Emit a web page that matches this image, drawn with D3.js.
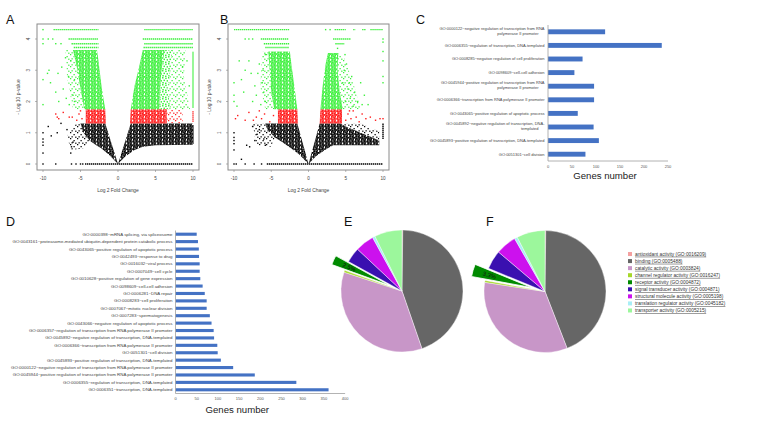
<!DOCTYPE html>
<html><head><meta charset="utf-8">
<script src="https://cdn.jsdelivr.net/npm/d3@7"></script>
<style>body{margin:0;background:#fff}svg{display:block}text{font-family:"Liberation Sans",Arial,sans-serif}</style>
</head><body><svg id="c" width="772" height="429"></svg>
<script>
// ---------------- DATA ----------------
const volcanoTicksX = [-10, -5, 0, 5, 10];
const volcanoTicksY = [0, 1, 2, 3, 4];
const volcanoXTitle = "Log 2 Fold Change";
const volcanoYTitle = "- Log 10 p-value";

// regions: [colour, density, polygon in (log2FC, -log10 p)]
const aRegions = [
  ["k","dense",[[0,0],[-1.2,0.3],[-2.2,0.5],[-3.0,0.62],[-3.8,0.75],[-4.6,1.0],[-5.0,1.3],[-1.7,1.3]]],
  ["k","sparse",[[-3.8,0.75],[-4.6,0.5],[-6.3,0.45],[-6.8,0.9],[-5.6,1.3],[-5.0,1.3],[-4.6,1.0]]],
  ["k","dense",[[0,0],[1.0,0.25],[2.2,0.45],[3.3,0.55],[5,0.6],[10,0.62],[10,1.3],[1.7,1.3]]],
  ["r","dense",[[-1.6,1.3],[-4.3,1.3],[-4.3,1.75],[-1.7,1.75]]],
  ["r","dense",[[1.6,1.3],[6.5,1.3],[6.5,1.75],[1.7,1.75]]],
  ["r","sparse",[[6.5,1.3],[8.6,1.3],[8.6,1.75],[6.5,1.75]]],
  ["g","dense",[[-1.7,1.75],[-2.2,2.5],[-2.6,3.3],[-2.8,3.65],[-6.0,3.65],[-5.4,3.0],[-5.0,2.4],[-4.5,1.75]]],
  ["g","sparse",[[-4.5,1.75],[-5.0,2.4],[-5.4,3.0],[-6.0,3.65],[-7.0,3.65],[-6.8,2.8],[-6.0,1.75]]],
  ["g","dense",[[1.7,1.75],[2.2,2.5],[2.9,3.2],[3.3,3.65],[6.2,3.65],[5.8,3.0],[5.6,2.4],[5.5,1.75]]],
  ["g","medium",[[5.5,1.75],[5.6,2.4],[5.8,3.0],[6.2,3.65],[7.2,3.65],[7.0,3.0],[6.6,2.4],[7.0,1.75]]],
  ["g","sparse",[[7.0,1.75],[6.6,2.4],[7.0,3.0],[7.2,3.65],[9.0,3.65],[8.8,2.8],[9.6,1.75]]]
];
// rows / columns of points: [x1, y1, x2, y2, colour]
const aRows = [
  [-8.6,4.3,-2.6,4.3,"g"],[3.5,4.3,10,4.3,"g"],
  [-6.6,4.0,-2.6,4.0,"g"],[3.3,4.0,10,4.0,"g"],
  [-6.2,3.85,-2.6,3.85,"g"],[3.5,3.85,10,3.85,"g"],
  [-5.9,3.73,-2.6,3.73,"g"],[3.4,3.73,10,3.73,"g"],
  [10,1.8,10,3.6,"g"],[10,1.35,10,1.7,"r"],[10,0.65,10,1.25,"k"],
  [-4.4,0,10,0,"k"]
];
// single points: [x, y, colour]
const aPoints = [
  [-10,0,"k"],[-8.3,0,"k"],[-6.2,0,"k"],[-5.6,0,"k"],[-5.0,0,"k"],[-4.7,0,"k"],
  [-10,1.0,"k"],[-10,0.8,"k"],[-10,0.7,"k"],[-10,0.6,"k"],[-10,0.35,"k"],[-9.3,1.2,"k"],[-8.1,1.0,"k"],
  [-8.9,0.9,"k"],[-6.0,0.7,"k"],[-6.2,0.55,"k"],[-6.3,0.35,"k"],[-7.6,1.3,"k"],[-6.8,1.1,"k"],
  [-8.3,1.6,"r"],[-8.1,1.5,"r"],[-7.9,1.45,"r"],[-6.5,1.5,"r"],[-6.1,1.5,"r"],[-5.5,1.4,"r"],
  [-5.2,1.6,"r"],[-4.8,1.45,"r"],[-5.0,1.7,"r"],[-7.3,1.65,"r"],
  [-10,1.9,"g"],[-10,2.7,"g"],[-9.4,2.9,"g"],[-9.0,2.6,"g"],[-9.2,3.0,"g"],[-8.0,2.9,"g"],
  [-7.5,3.1,"g"],[-7.3,2.4,"g"],[-6.9,2.1,"g"],[-7.9,2.0,"g"],[-8.3,2.3,"g"],[-6.6,2.8,"g"],
  [-6.3,3.3,"g"],[-6.0,2.2,"g"],[-6.5,1.9,"g"],[-5.8,2.0,"g"],[-7.0,3.4,"g"],[-5.8,2.7,"g"],
  [-10,4.3,"g"],[-10,4.0,"g"],[-9.3,4.0,"g"],[-8.7,4.0,"g"],[-10,3.85,"g"],[-8.3,3.85,"g"],[-7.6,3.85,"g"],
  [9.2,3.3,"g"],[9.5,2.5,"g"],[8.6,3.1,"g"]
];

const bRegions = [
  ["k","dense",[[0,0],[-1.2,0.3],[-2.3,0.5],[-3.5,0.7],[-4.5,0.85],[-5.5,1.1],[-5.8,1.3],[-1.5,1.3]]],
  ["k","sparse",[[-4.5,0.85],[-5.0,0.55],[-7.0,0.6],[-7.5,1.3],[-5.8,1.3],[-5.5,1.1]]],
  ["k","dense",[[0,0],[1,0.25],[2.2,0.45],[3.3,0.6],[9.5,0.6],[9.5,0.75],[7,1.0],[5,1.2],[4.3,1.3],[1.5,1.3]]],
  ["k","sparse",[[4.3,1.3],[5,1.2],[7,1.0],[9.5,0.75],[9.5,1.05],[7,1.3]]],
  ["r","dense",[[-1.4,1.3],[-4.1,1.3],[-4.1,1.75],[-1.5,1.75]]],
  ["r","dense",[[1.5,1.3],[4.5,1.3],[4.5,1.75],[1.6,1.75]]],
  ["g","dense",[[-1.5,1.75],[-1.9,2.5],[-2.3,3.2],[-2.5,3.6],[-5.4,3.6],[-5.2,3.0],[-5.0,2.3],[-4.6,1.75]]],
  ["g","sparse",[[-4.6,1.75],[-5.0,2.3],[-5.2,3.0],[-5.4,3.6],[-6.2,3.6],[-6.5,2.5],[-5.8,1.75]]],
  ["g","dense",[[1.6,1.75],[1.9,2.5],[2.3,3.2],[2.6,3.55],[4.0,3.55],[3.9,3.0],[4.2,2.3],[4.6,1.75]]],
  ["g","sparse",[[4.6,1.75],[4.2,2.3],[3.9,3.0],[4.0,3.55],[4.8,3.4],[6,2.6],[7,1.75]]]
];
const bRows = [
  [-10,4.3,-2.6,4.3,"g"],[3.5,4.3,5.0,4.3,"g"],[6.0,4.3,6.3,4.3,"g"],[7.2,4.3,7.7,4.3,"g"],[8.3,4.3,10,4.3,"g"],
  [-6.4,4.0,-2.7,4.0,"g"],[3.3,4.0,5.7,4.0,"g"],
  [-6.0,3.85,-2.6,3.85,"g"],[3.6,3.85,4.8,3.85,"g"],
  [-5.8,3.73,-2.6,3.73,"g"],
  [10,0.8,10,1.3,"k"],
  [-5.6,0,10,0,"k"]
];
const bPoints = [
  [-10,0,"k"],[-9.7,0,"k"],[-8.5,0,"k"],[-7.3,0,"k"],[-6.3,0,"k"],
  [-10,1.0,"k"],[-10,0.85,"k"],[-10,0.75,"k"],[-10,0.65,"k"],[-10,0.45,"k"],[-8.3,0.6,"k"],[-7.9,0.55,"k"],
  [-7.2,0.75,"k"],[-6.9,0.95,"k"],[-6.6,1.1,"k"],[-6.0,0.8,"k"],[-5.8,0.6,"k"],[-7.5,1.2,"k"],[-9.0,0.15,"k"],
  [-9.8,1.45,"r"],[-9.5,1.55,"r"],[-8.5,1.4,"r"],[-7.4,1.4,"r"],[-7.0,1.5,"r"],[-6.3,1.45,"r"],[-5.9,1.6,"r"],
  [-5.2,1.35,"r"],[-4.7,1.55,"r"],[-6.6,1.7,"r"],[-8.0,1.65,"r"],
  [5,1.4,"r"],[5.3,1.6,"r"],[5.7,1.45,"r"],[6.0,1.7,"r"],[6.4,1.5,"r"],[6.8,1.35,"r"],[7.2,1.6,"r"],
  [7.7,1.45,"r"],[8.3,1.5,"r"],[9.0,1.4,"r"],[9.6,1.45,"r"],[10,1.45,"r"],[5.5,1.7,"r"],
  [-10,2.0,"g"],[-10,2.2,"g"],[-9.6,1.85,"g"],[-10,2.6,"g"],[-9.0,2.7,"g"],[-8.5,3.0,"g"],[-8.0,3.3,"g"],
  [-7.7,2.9,"g"],[-7.2,2.5,"g"],[-7.0,2.2,"g"],[-6.8,2.9,"g"],[-6.6,3.2,"g"],[-6.2,2.6,"g"],[-6.0,2.3,"g"],
  [-5.8,3.5,"g"],[-7.5,2.0,"g"],[-8.7,2.3,"g"],[-9.3,3.3,"g"],[-6.4,1.9,"g"],[-5.8,2.0,"g"],[-6.1,3.0,"g"],
  [-8.5,4.0,"g"],[-8.0,4.0,"g"],[-7.5,4.0,"g"],
  [5,2.0,"g"],[5.3,2.4,"g"],[5.6,2.1,"g"],[5.8,2.8,"g"],[6.2,2.3,"g"],[6.6,2.0,"g"],[7.0,2.6,"g"],
  [7.5,2.2,"g"],[8.0,1.9,"g"],[4.8,3.0,"g"],[5.1,3.2,"g"],[4.6,2.6,"g"],[6.0,1.85,"g"],[7.2,1.9,"g"],
  [5.5,2.6,"g"],[4.9,3.5,"g"],[3.9,3.7,"g"],[2.3,4.3,"g"],[2.9,4.3,"g"],
  [10,3.3,"g"],[10,3.6,"g"],[10,3.9,"g"],[10,4.0,"g"],[10,2.8,"g"],[10,2.6,"g"]
];

// Panel C
const cCategories = [
  ["GO:0000122~negative regulation of transcription from RNA","polymerase II promoter"],
  ["GO:0006355~regulation of transcription, DNA-templated"],
  ["GO:0008285~negative regulation of cell proliferation"],
  ["GO:0098609~cell-cell adhesion"],
  ["GO:0045944~positive regulation of transcription from RNA","polymerase II promoter"],
  ["GO:0006366~transcription from RNA polymerase II promoter"],
  ["GO:0043065~positive regulation of apoptotic process"],
  ["GO:0045892~negative regulation of transcription, DNA-","templated"],
  ["GO:0045893~positive regulation of transcription, DNA-templated"],
  ["GO:0051301~cell division"]
];
const cValues = [119, 237, 72, 55, 96, 96, 62, 95, 106, 78];
const cTicks = [0, 50, 100, 150, 200, 250];

// Panel D
const dCategories = [
  "GO:0000398~mRNA splicing, via spliceosome",
  "GO:0043161~proteasome-mediated ubiquitin-dependent protein catabolic process",
  "GO:0043065~positive regulation of apoptotic process",
  "GO:0042493~response to drug",
  "GO:0016032~viral process",
  "GO:0007049~cell cycle",
  "GO:0010628~positive regulation of gene expression",
  "GO:0098609~cell-cell adhesion",
  "GO:0006281~DNA repair",
  "GO:0008283~cell proliferation",
  "GO:0007067~mitotic nuclear division",
  "GO:0007283~spermatogenesis",
  "GO:0043066~negative regulation of apoptotic process",
  "GO:0006357~regulation of transcription from RNA polymerase II promoter",
  "GO:0045892~negative regulation of transcription, DNA-templated",
  "GO:0006366~transcription from RNA polymerase II promoter",
  "GO:0051301~cell division",
  "GO:0045893~positive regulation of transcription, DNA-templated",
  "GO:0000122~negative regulation of transcription from RNA polymerase II promoter",
  "GO:0045944~positive regulation of transcription from RNA polymerase II promoter",
  "GO:0006355~regulation of transcription, DNA-templated",
  "GO:0006351~transcription, DNA-templated"
];
const dValues = [50, 53, 55, 55.5, 57, 57, 58.5, 64, 69, 73.5, 73.5, 81, 85, 90, 91, 98.6, 99.5, 107, 136, 187, 285, 361];
const dTicks = [0, 50, 100, 150, 200, 250, 300, 350, 400];
const axisTitle = "Genes number";

// Panels E, F
const pieCategories = [
  "antioxidant activity (GO:0016209)",
  "binding (GO:0005488)",
  "catalytic activity (GO:0003824)",
  "channel regulator activity (GO:0016247)",
  "receptor activity (GO:0004872)",
  "signal transducer activity (GO:0004871)",
  "structural molecule activity (GO:0005198)",
  "translation regulator activity (GO:0045182)",
  "transporter activity (GO:0005215)"
];
const pieColors = ["#f4a0a0","#666666","#c896c8","#a6d82a","#008a00","#3a10b0","#cc11ee","#a8eef6","#9cf79c"];
const pieEValues = [0.2, 44.5, 35.3, 0.5, 2.5, 4.0, 5.0, 0.7, 7.3];
const pieFValues = [0.2, 43.9, 33.3, 0.5, 3.3, 5.0, 5.5, 0.8, 7.5];
const pieLabelE = "2.5%";
const pieLabelF = "3.3%";

// ---------------- DRAW ----------------
const svg = d3.select("#c");
const col = {k:"#000000", r:"#ff1a1a", g:"#3cf03c"};
const defs = svg.append("defs");
// dot textures (irregular tiles) used to render the dense point clouds
const tileDense = [[0,0],[2,0.3],[4.1,0],[1,1.9],[3.1,2.1],[5,1.7],[0.2,3.9],[2.1,4.2],[4,3.8],[1.2,5.9],[3.3,6],[5.1,5.6]];
const tileMedium = [[0,0],[3.2,0.6],[1.5,2.6],[4.6,3.1],[0.3,5],[3,5.6]];
const tileSparse = [[0,0],[3.5,2],[1.5,4.2],[5.2,4.6]];
Object.entries(col).forEach(([k,c]) => {
  const mk = (name, w, h, tile, s) => {
    const p = defs.append("pattern").attr("id","p-"+k+"-"+name).attr("patternUnits","userSpaceOnUse").attr("width",w).attr("height",h);
    tile.forEach(([x,y]) => p.append("rect").attr("x",x).attr("y",y).attr("width",s).attr("height",s).attr("fill",c));
  };
  mk("dense", 6, 7.6, tileDense, 1.8);
  mk("medium", 6, 7, tileMedium, 1.5);
  mk("sparse", 7, 6, tileSparse, 1.25);
});

function volcano(box, xr, regions, rows, points, id) {
  const x = d3.scaleLinear().domain([-10,10]).range(xr);
  const y = d3.scaleLinear().domain([0,4]).range([164,39]);
  const g = svg.append("g");
  defs.append("clipPath").attr("id","clip"+id).append("rect")
    .attr("x",box[0]).attr("y",box[1]).attr("width",box[2]-box[0]).attr("height",box[3]-box[1]);
  const plot = g.append("g").attr("clip-path","url(#clip"+id+")");
  const line = d3.line().x(d=>x(d[0])).y(d=>y(d[1]));
  regions.forEach(([c,dens,pts]) => {
    plot.append("path").attr("d", line(pts)+"Z").attr("fill","url(#p-"+c+"-"+dens+")");
  });
  rows.forEach(([x1,y1,x2,y2,c]) => {
    plot.append("line").attr("x1",x(x1)).attr("y1",y(y1)).attr("x2",x(x2)).attr("y2",y(y2))
      .attr("stroke",col[c]).attr("stroke-width",1.4).attr("stroke-dasharray","1.4,0.6");
  });
  plot.selectAll(null).data(points).join("rect")
    .attr("x",d=>x(d[0])-0.7).attr("y",d=>y(d[1])-0.7).attr("width",1.4).attr("height",1.4)
    .attr("fill",d=>col[d[2]]);
  g.append("rect").attr("x",box[0]).attr("y",box[1]).attr("width",box[2]-box[0]).attr("height",box[3]-box[1])
    .attr("fill","none").attr("stroke","#8a8a8a").attr("stroke-width",1);
  volcanoTicksX.forEach(t => {
    g.append("line").attr("x1",x(t)).attr("x2",x(t)).attr("y1",box[3]).attr("y2",box[3]+2).attr("stroke","#888").attr("stroke-width",0.6);
    g.append("text").attr("x",x(t)).attr("y",box[3]+9.5).attr("text-anchor","middle")
      .attr("font-size",4.6).attr("fill","#444").text(t);
  });
  volcanoTicksY.forEach(t => {
    g.append("line").attr("x1",box[0]-2).attr("x2",box[0]).attr("y1",y(t)).attr("y2",y(t)).attr("stroke","#888").attr("stroke-width",0.6);
    g.append("text").attr("transform",`translate(${box[0]-7},${y(t)}) rotate(-90)`).attr("text-anchor","middle")
      .attr("font-size",4.6).attr("fill","#444").text(t);
  });
  g.append("text").attr("x",(box[0]+box[2])/2).attr("y",192).attr("text-anchor","middle")
    .attr("font-size",4.9).attr("fill","#444").text(volcanoXTitle);
  g.append("text").attr("transform",`translate(${box[0]-17.5},${(box[1]+box[3])/2}) rotate(-90)`).attr("text-anchor","middle")
    .attr("font-size",4.9).attr("fill","#444").text(volcanoYTitle);
}
volcano([37,24,199,170],[43,193],aRegions,aRows,aPoints,"A");
volcano([228,24,389,170],[234,383],bRegions,bRows,bPoints,"B");

// ---- Panel C ----
(function(){
  const x = d3.scaleLinear().domain([0,250]).range([548,668]);
  const y = d3.scaleBand().domain(d3.range(cValues.length)).range([25,161]).paddingInner(0.64).paddingOuter(0.32);
  const g = svg.append("g");
  g.selectAll(null).data(cValues).join("rect")
    .attr("x",x(0)).attr("y",(d,i)=>y(i)).attr("width",d=>x(d)-x(0)).attr("height",y.bandwidth()).attr("fill","#4472c4");
  g.append("line").attr("x1",x(0)).attr("x2",x(0)).attr("y1",25).attr("y2",161).attr("stroke","#a0a0a0").attr("stroke-width",0.8);
  g.append("line").attr("x1",x(0)).attr("x2",x(250)).attr("y1",161).attr("y2",161).attr("stroke","#a0a0a0").attr("stroke-width",0.8);
  cTicks.forEach(t => {
    g.append("text").attr("x",x(t)).attr("y",167.5).attr("text-anchor","middle").attr("font-size",4).attr("fill","#555").text(t);
  });
  cCategories.forEach((lines,i) => {
    const cy = y(i) + y.bandwidth()/2;
    if (lines.length === 1) {
      g.append("text").attr("x",544.5).attr("y",cy+1.4).attr("text-anchor","end").attr("font-size",4).attr("fill","#444").text(lines[0]);
    } else {
      g.append("text").attr("x",544.5).attr("y",cy-2.2).attr("text-anchor","end").attr("font-size",4).attr("fill","#444").text(lines[0]);
      g.append("text").attr("x",538.5).attr("y",cy+3.2).attr("text-anchor","end").attr("font-size",4).attr("fill","#444").text(lines[1]);
    }
  });
  g.append("text").attr("x",605).attr("y",179).attr("text-anchor","middle").attr("font-size",9.6).attr("fill","#222").text(axisTitle);
})();

// ---- Panel D ----
(function(){
  const x = d3.scaleLinear().domain([0,400]).range([175.5,345.1]);
  const y = d3.scaleBand().domain(d3.range(dValues.length)).range([230.5,393.5]).paddingInner(0.58).paddingOuter(0.29);
  const g = svg.append("g");
  g.selectAll(null).data(dValues).join("rect")
    .attr("x",x(0)).attr("y",(d,i)=>y(i)).attr("width",d=>x(d)-x(0)).attr("height",y.bandwidth()).attr("fill","#4472c4");
  g.append("line").attr("x1",x(0)).attr("x2",x(0)).attr("y1",230.5).attr("y2",393.5).attr("stroke","#a0a0a0").attr("stroke-width",0.8);
  g.append("line").attr("x1",x(0)).attr("x2",x(400)).attr("y1",393.5).attr("y2",393.5).attr("stroke","#a0a0a0").attr("stroke-width",0.8);
  dTicks.forEach(t => {
    g.append("text").attr("x",x(t)).attr("y",399.5).attr("text-anchor","middle").attr("font-size",4).attr("fill","#555").text(t);
  });
  dCategories.forEach((lab,i) => {
    g.append("text").attr("x",172.5).attr("y",y(i)+y.bandwidth()/2+1.5).attr("text-anchor","end")
      .attr("font-size",4.4).attr("fill","#444").text(lab);
  });
  g.append("text").attr("x",237.3).attr("y",413).attr("text-anchor","middle").attr("font-size",9.6).attr("fill","#222").text(axisTitle);
})();

// ---- Pies ----
function pie(cx, cy, r, values, label, explodeIdx) {
  const arcs = d3.pie().sort(null).value(d=>d)(values);
  const arc = d3.arc().innerRadius(0).outerRadius(r);
  const g = svg.append("g").attr("transform",`translate(${cx},${cy})`);
  arcs.forEach((a,i) => {
    if (i === explodeIdx) return;
    g.append("path").attr("d",arc(a)).attr("fill",pieColors[i]).attr("stroke","#fff").attr("stroke-width",0.4);
  });
  const a = arcs[explodeIdx];
  const mid = (a.startAngle + a.endAngle)/2;
  const off = 14;
  const ex = g.append("g").attr("transform",`translate(${Math.sin(mid)*off},${-Math.cos(mid)*off})`);
  ex.append("path").attr("d",arc(a)).attr("fill",pieColors[explodeIdx]).attr("stroke","#fff").attr("stroke-width",0.8);
  const lr = r*0.72;
  const deg = mid*180/Math.PI - 270;
  ex.append("text").attr("transform",`translate(${Math.sin(mid)*lr},${-Math.cos(mid)*lr}) rotate(${deg})`)
    .attr("text-anchor","middle").attr("dy","0.35em").attr("font-size",6).attr("fill","#111").text(label);
}
pie(402, 291, 61, pieEValues, pieLabelE, 4);
pie(545, 291.5, 61, pieFValues, pieLabelF, 4);

// legend
(function(){
  const y = d3.scaleBand().domain(d3.range(pieCategories.length)).range([250.5,314]);
  const g = svg.append("g");
  pieCategories.forEach((c,i) => {
    const cy = y(i) + y.bandwidth()/2;
    g.append("rect").attr("x",628).attr("y",cy-2).attr("width",4).attr("height",4).attr("fill",pieColors[i]);
    g.append("text").attr("x",635).attr("y",cy+1.7).attr("font-size",4.8).attr("fill","#333")
      .attr("text-decoration","underline").text(c);
  });
})();

// panel letters
[["A",6,23.5],["B",220,23.5],["C",416,23.5],["D",6,226],["E",344,226],["F",486,226]].forEach(([t,x,y]) => {
  svg.append("text").attr("x",x).attr("y",y).attr("font-size",12.5).attr("fill","#111").text(t);
});
</script></body></html>
